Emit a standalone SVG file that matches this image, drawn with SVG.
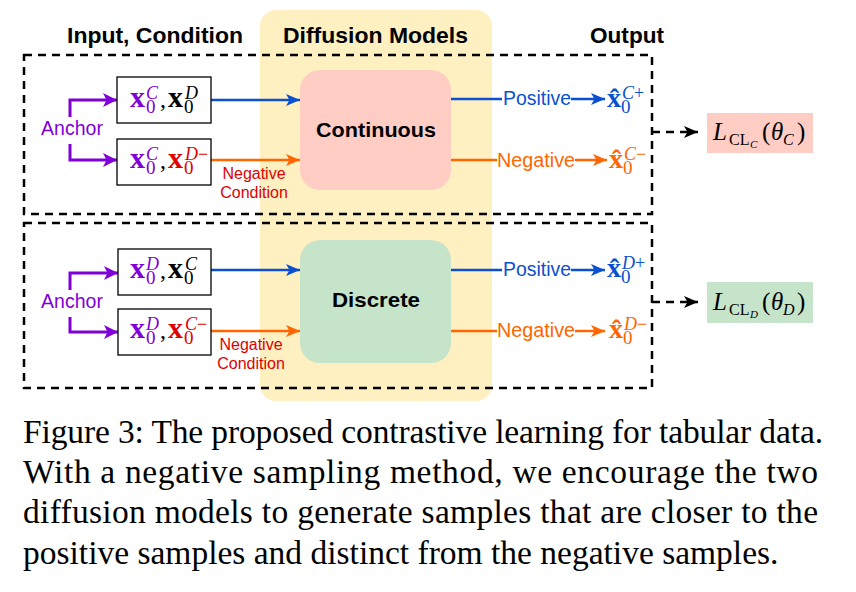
<svg xmlns="http://www.w3.org/2000/svg" width="856" height="592" viewBox="0 0 856 592">
<defs>
<style>
.hdr{font-family:"Liberation Sans",Arial,sans-serif;font-weight:bold;font-size:22px;fill:#000;text-anchor:middle}
.mdl{font-family:"Liberation Sans",Arial,sans-serif;font-weight:bold;font-size:21px;fill:#000;text-anchor:middle}
.lbl{font-family:"Liberation Sans",Arial,sans-serif;font-size:20px}
.anc{font-family:"Liberation Sans",Arial,sans-serif;font-size:19.5px;fill:#8000d8;text-anchor:middle}
.cond{font-family:"Liberation Sans",Arial,sans-serif;font-size:16px;fill:#e00000;text-anchor:middle}
.m{font-family:"Liberation Serif","Times New Roman",serif}
.bx{font-weight:bold;font-size:30px}
.ox{font-weight:bold;font-size:28px}
.sb{font-size:19px}
.sp{font-size:18px;font-style:italic}
.it{font-style:italic}
.cap{font-family:"Liberation Serif","Times New Roman",serif;font-size:33.5px;fill:#000}
.dash{fill:none;stroke:#000;stroke-width:2.5;stroke-dasharray:8 6}
.box{fill:#fff;stroke:#000;stroke-width:1.3}
.pu{fill:none;stroke:#8000d8;stroke-width:3}
.bl{fill:none;stroke:#0a50d0;stroke-width:2.5}
.or{fill:none;stroke:#ff6600;stroke-width:2.5}
</style>
<marker id="aP" markerUnits="userSpaceOnUse" markerWidth="14" markerHeight="14" refX="14" refY="7" orient="auto"><path d="M0,0 L14,7 L0,14 L3.5,7 Z" fill="#8000d8"/></marker>
<marker id="aB" markerUnits="userSpaceOnUse" markerWidth="14" markerHeight="12" refX="14" refY="6" orient="auto"><path d="M0,0 L14,6 L0,12 L3.5,6 Z" fill="#0a50d0"/></marker>
<marker id="aO" markerUnits="userSpaceOnUse" markerWidth="14" markerHeight="12" refX="14" refY="6" orient="auto"><path d="M0,0 L14,6 L0,12 L3.5,6 Z" fill="#ff6600"/></marker>
<marker id="aK" markerUnits="userSpaceOnUse" markerWidth="14" markerHeight="12" refX="14" refY="6" orient="auto"><path d="M0,0 L14,6 L0,12 L3.5,6 Z" fill="#000"/></marker>
</defs>
<rect width="856" height="592" fill="#fff"/>

<g id="diffusion-band"><rect x="260" y="10" width="232" height="391" rx="16" fill="#fff0c2"/></g>

<g id="headers">
<text class="hdr" x="155" y="43" textLength="176" lengthAdjust="spacingAndGlyphs">Input, Condition</text>
<text class="hdr" x="375.5" y="43" textLength="185" lengthAdjust="spacingAndGlyphs">Diffusion Models</text>
<text class="hdr" x="627" y="43" textLength="74" lengthAdjust="spacingAndGlyphs">Output</text>
</g>

<g id="frames">
<rect class="dash" x="24" y="55" width="628" height="159"/>
<rect class="dash" x="24" y="223" width="628" height="165"/>
</g>

<g id="continuous"><rect x="300" y="70" width="151" height="120" rx="20" fill="#ffcdc4"/><text class="mdl" x="376" y="137" textLength="120" lengthAdjust="spacingAndGlyphs">Continuous</text></g>
<g id="discrete"><rect x="300" y="240" width="151" height="123" rx="20" fill="#c6e4ca"/><text class="mdl" x="376" y="307" textLength="88" lengthAdjust="spacingAndGlyphs">Discrete</text></g>

<g id="connectors">
<path class="pu" d="M70,117 V100 H117" marker-end="url(#aP)"/>
<path class="pu" d="M70,144 V160 H117" marker-end="url(#aP)"/>
<path class="pu" d="M70,290 V273 H118" marker-end="url(#aP)"/>
<path class="pu" d="M70,317 V332 H118" marker-end="url(#aP)"/>
<path class="bl" d="M211,100 H300" marker-end="url(#aB)"/>
<path class="or" d="M211,160 H300" marker-end="url(#aO)"/>
<path class="bl" d="M211,270 H300" marker-end="url(#aB)"/>
<path class="or" d="M211,331 H300" marker-end="url(#aO)"/>
<path class="bl" d="M451,99 H502"/>
<path class="bl" d="M571,99 H605" marker-end="url(#aB)"/>
<path class="or" d="M451,160 H497"/>
<path class="or" d="M575,160 H607" marker-end="url(#aO)"/>
<path class="bl" d="M451,270 H502"/>
<path class="bl" d="M571,270 H605" marker-end="url(#aB)"/>
<path class="or" d="M451,331 H497"/>
<path class="or" d="M575,331 H605" marker-end="url(#aO)"/>
<path class="dash" d="M652,132 H698" marker-end="url(#aK)"/>
<path class="dash" d="M652,302 H698" marker-end="url(#aK)"/>
</g>

<g id="anchor-top"><text class="anc" x="72" y="135">Anchor</text></g>
<g id="anchor-bottom"><text class="anc" x="72" y="308">Anchor</text></g>

<g id="box1"><rect class="box" x="117" y="77" width="94" height="46"/>
<text class="m"><tspan class="bx" x="130" y="107" fill="#8000d8">x</tspan><tspan class="sb" x="146" y="113" fill="#8000d8">0</tspan><tspan class="sp" x="146" y="99" fill="#8000d8">C</tspan><tspan font-size="24" x="160" y="107">,</tspan><tspan class="bx" x="168" y="107">x</tspan><tspan class="sb" x="184" y="113">0</tspan><tspan class="sp" x="185" y="99">D</tspan></text></g>

<g id="box2"><rect class="box" x="117" y="139" width="94" height="46"/>
<text class="m"><tspan class="bx" x="130" y="168" fill="#8000d8">x</tspan><tspan class="sb" x="146" y="174" fill="#8000d8">0</tspan><tspan class="sp" x="146" y="160" fill="#8000d8">C</tspan><tspan font-size="24" x="160" y="168">,</tspan><tspan class="bx" x="168" y="168" fill="#e00000">x</tspan><tspan class="sb" x="184" y="174" fill="#e00000">0</tspan><tspan class="sp" x="185" y="160" fill="#e00000">D<tspan font-style="normal">−</tspan></tspan></text></g>

<g id="box3"><rect class="box" x="118" y="249" width="93" height="46"/>
<text class="m"><tspan class="bx" x="130" y="278" fill="#8000d8">x</tspan><tspan class="sb" x="146" y="284" fill="#8000d8">0</tspan><tspan class="sp" x="146" y="270" fill="#8000d8">D</tspan><tspan font-size="24" x="160" y="278">,</tspan><tspan class="bx" x="168" y="278">x</tspan><tspan class="sb" x="184" y="284">0</tspan><tspan class="sp" x="185" y="270">C</tspan></text></g>

<g id="box4"><rect class="box" x="118" y="309" width="93" height="46"/>
<text class="m"><tspan class="bx" x="130" y="338" fill="#8000d8">x</tspan><tspan class="sb" x="146" y="344" fill="#8000d8">0</tspan><tspan class="sp" x="146" y="330" fill="#8000d8">D</tspan><tspan font-size="24" x="160" y="338">,</tspan><tspan class="bx" x="168" y="338" fill="#e00000">x</tspan><tspan class="sb" x="184" y="344" fill="#e00000">0</tspan><tspan class="sp" x="185" y="330" fill="#e00000">C<tspan font-style="normal">−</tspan></tspan></text></g>

<g id="neg-cond-top"><text class="cond" x="254" y="179">Negative</text><text class="cond" x="254" y="198">Condition</text></g>
<g id="neg-cond-bottom"><text class="cond" x="251" y="350">Negative</text><text class="cond" x="251" y="369">Condition</text></g>

<g id="positive-top"><text class="lbl" x="503" y="105" fill="#0a50d0" textLength="68" lengthAdjust="spacingAndGlyphs">Positive</text>
<text class="m" fill="#0a50d0"><tspan class="ox" x="607" y="107">x̂</tspan><tspan class="sb" x="621" y="113">0</tspan><tspan class="sp" x="622" y="99">C<tspan font-style="normal">+</tspan></tspan></text></g>
<g id="negative-top"><text class="lbl" x="497" y="167" fill="#ff6600" textLength="78" lengthAdjust="spacingAndGlyphs">Negative</text>
<text class="m" fill="#ff6600"><tspan class="ox" x="609" y="168">x̂</tspan><tspan class="sb" x="623" y="174">0</tspan><tspan class="sp" x="624" y="160">C<tspan font-style="normal">−</tspan></tspan></text></g>
<g id="positive-bottom"><text class="lbl" x="503" y="276" fill="#0a50d0" textLength="68" lengthAdjust="spacingAndGlyphs">Positive</text>
<text class="m" fill="#0a50d0"><tspan class="ox" x="607" y="277">x̂</tspan><tspan class="sb" x="621" y="283">0</tspan><tspan class="sp" x="622" y="269">D<tspan font-style="normal">+</tspan></tspan></text></g>
<g id="negative-bottom"><text class="lbl" x="497" y="337" fill="#ff6600" textLength="78" lengthAdjust="spacingAndGlyphs">Negative</text>
<text class="m" fill="#ff6600"><tspan class="ox" x="609" y="338">x̂</tspan><tspan class="sb" x="623" y="344">0</tspan><tspan class="sp" x="624" y="330">D<tspan font-style="normal">−</tspan></tspan></text></g>

<g id="loss-c"><rect x="707" y="113" width="106" height="40" fill="#ffcdc4"/>
<text class="m" fill="#000"><tspan class="it" font-size="25" x="713" y="140">L</tspan><tspan font-size="16" x="729" y="145">CL</tspan><tspan class="it" font-size="11" x="750" y="148">C</tspan><tspan font-size="25" x="762" y="140">(</tspan><tspan class="it" font-size="25" x="771" y="140">θ</tspan><tspan class="it" font-size="16" x="783" y="145">C</tspan><tspan font-size="25" x="797" y="140">)</tspan></text></g>
<g id="loss-d"><rect x="707" y="282" width="106" height="41" fill="#c6e4ca"/>
<text class="m" fill="#000"><tspan class="it" font-size="25" x="713" y="310">L</tspan><tspan font-size="16" x="729" y="315">CL</tspan><tspan class="it" font-size="11" x="750" y="318">D</tspan><tspan font-size="25" x="762" y="310">(</tspan><tspan class="it" font-size="25" x="771" y="310">θ</tspan><tspan class="it" font-size="16" x="783" y="315">D</tspan><tspan font-size="25" x="797" y="310">)</tspan></text></g>

<g id="caption">
<text class="cap" x="23" y="443" textLength="800" lengthAdjust="spacing">Figure 3: The proposed contrastive learning for tabular data.</text>
<text class="cap" x="23" y="483" textLength="795" lengthAdjust="spacing">With a negative sampling method, we encourage the two</text>
<text class="cap" x="23" y="523" textLength="795" lengthAdjust="spacing">diffusion models to generate samples that are closer to the</text>
<text class="cap" x="23" y="564">positive samples and distinct from the negative samples.</text>
</g>
</svg>
